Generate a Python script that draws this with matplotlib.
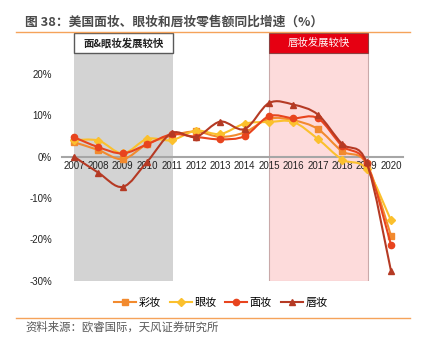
import numpy as np
import matplotlib
matplotlib.use("Agg")
import matplotlib.pyplot as plt
from matplotlib.path import Path
from matplotlib.patches import PathPatch, Rectangle
from matplotlib.lines import Line2D

plt.rcParams['font.family'] = ['Liberation Sans', 'Noto Sans CJK SC', 'DejaVu Sans']

years = list(range(2007, 2021))
caizhuang = [3.5, 1.6, -0.6, 3.1, 5.1, 6.1, 4.8, 5.9, 9.2, 8.8, 6.7, 1.3, -1.7, -19.1]
yanzhuang = [4.0, 3.9, 0.8, 4.3, 4.0, 6.3, 5.5, 8.0, 8.4, 8.4, 4.3, -0.7, -3.0, -15.4]
mianzhuang = [4.7, 2.3, 0.8, 3.0, 5.4, 4.8, 4.2, 5.0, 9.8, 9.3, 9.3, 2.6, -1.6, -21.3]
chunzhuang = [0.0, -3.9, -7.3, -1.2, 5.7, 4.8, 8.5, 6.7, 13.0, 12.6, 10.2, 3.1, -1.4, -27.6]

series = [
    ("彩妆", caizhuang, '#F28A2E', 's'),
    ("眼妆", yanzhuang, '#FBC02D', 'D'),
    ("面妆", mianzhuang, '#E8441E', 'o'),
    ("唇妆", chunzhuang, '#B53A24', '^'),
]

cjk = ['Noto Sans CJK SC', 'DejaVu Sans']


def smooth_path(x, y):
    # excel style smoothed line, bezier segments through the data points
    pts = np.column_stack([x, y]).astype(float)
    n = len(pts)
    verts = [pts[0]]
    codes = [Path.MOVETO]
    for i in range(n - 1):
        p0 = pts[i - 1] if i > 0 else pts[i]
        p1 = pts[i]
        p2 = pts[i + 1]
        p3 = pts[i + 2] if i + 2 < n else pts[i + 1]
        c1 = p1 + (p2 - p0) / 6.0
        c2 = p2 - (p3 - p1) / 6.0
        verts += [c1, c2, p2]
        codes += [Path.CURVE4] * 3
    return Path(verts, codes)


fig = plt.figure(figsize=(4.33, 3.51), dpi=100)
ax = fig.add_axes([0.143, 0.2006, 0.788, 0.706])
ax.set_xlim(2006.5, 2020.5)
ax.set_ylim(-30, 30)

# shaded periods
ax.add_patch(Rectangle((2007, -30), 4.05, 55, facecolor='#D3D3D3', edgecolor='none', zorder=0))
ax.add_patch(Rectangle((2007, 25), 4.05, 5, facecolor='white', edgecolor='#595959', lw=1.0, zorder=3))
ax.text(2009.03, 27.5, "面&眼妆发展较快", ha='center', va='center', fontsize=7.5,
        family=cjk, weight='bold', color='#222222', zorder=4)
ax.add_patch(Rectangle((2015, -30), 4.05, 55, facecolor='#FDDBDB', edgecolor='#C9A9A9', lw=0.8, zorder=0))
ax.add_patch(Rectangle((2015, 25), 4.05, 5, facecolor='#E60012', edgecolor='#8C4040', lw=0.8, zorder=3))
ax.text(2017.03, 27.5, "唇妆发展较快", ha='center', va='center', fontsize=7.5,
        family=cjk, color='white', zorder=4)

handles = []
for name, vals, color, mk in series:
    ax.add_patch(PathPatch(smooth_path(years, vals), facecolor='none', edgecolor=color, lw=1.5, zorder=2))
    ax.plot(years, vals, linestyle='none', marker=mk, color=color, markersize=4.5, zorder=2)
    handles.append(Line2D([0], [0], color=color, lw=1.5, marker=mk, markersize=4.5, label=name))

for s in ['top', 'right', 'left']:
    ax.spines[s].set_visible(False)
ax.spines['bottom'].set_position(('data', 0))
ax.spines['bottom'].set_color('#A6A6A6')
ax.spines['bottom'].set_linewidth(1.5)
ax.spines['bottom'].set_zorder(1)

ax.set_xticks(years)
ax.set_xticklabels([str(y) for y in years], fontsize=7, color='#222222')
ax.set_yticks([-30, -20, -10, 0, 10, 20])
ax.set_yticklabels(['-30%', '-20%', '-10%', '0%', '10%', '20%'], fontsize=7, color='#222222')
ax.tick_params(axis='x', length=0, pad=3)
ax.tick_params(axis='y', length=0, pad=7)
ax.patch.set_alpha(0)

fig.legend(handles=handles, loc='center', bbox_to_anchor=(0.51, 0.138), ncol=4, frameon=False,
           prop={'family': cjk, 'size': 8}, handlelength=2.0, handletextpad=0.2, columnspacing=0.8,
           numpoints=1)

fig.text(0.058, 0.937, "图 38：美国面妆、眼妆和唇妆零售额同比增速（%）", fontsize=9.2, family=cjk,
         weight='bold', color='#4a4a4a', va='center', ha='left')
fig.add_artist(Line2D([16 / 433, 410 / 433], [1 - 31.7 / 351] * 2, color='#F5A35A', lw=1.0))
fig.add_artist(Line2D([16 / 433, 410 / 433], [1 - 317.7 / 351] * 2, color='#F5A35A', lw=1.0))
fig.text(0.058, 0.069, "资料来源：欧睿国际，天风证券研究所", fontsize=8.2, family=cjk,
         color='#595959', va='center', ha='left')

fig.savefig("out.png", dpi=100)
